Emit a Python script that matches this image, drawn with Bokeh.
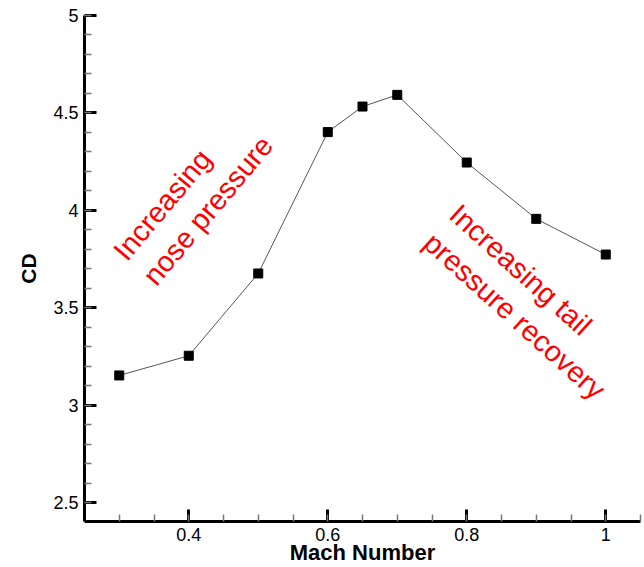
from bokeh.plotting import figure
from bokeh.models import SingleIntervalTicker, CustomJSTickFormatter, Range1d
from bokeh.core.properties import value
from bokeh.embed import file_html
from bokeh.resources import INLINE

mach = [0.3, 0.4, 0.5, 0.6, 0.65, 0.7, 0.8, 0.9, 1.0]
cd = [3.154, 3.255, 3.677, 4.402, 4.533, 4.593, 4.246, 3.957, 3.774]

note_x = [0.3214, 0.7634]
note_y = [3.703, 3.93]
note_text = ["Increasing\nnose pressure", "Increasing tail\npressure recovery"]
note_angle = [50, -42]

FONT = "Liberation Sans"

p = figure(width=644, height=567, output_backend="svg", toolbar_location=None,
           x_range=Range1d(0.25, 1.05), y_range=Range1d(2.405, 5.0),
           min_border_left=84, min_border_right=4, min_border_top=15, min_border_bottom=46)
p.outline_line_color = None
p.xgrid.visible = False
p.ygrid.visible = False

p.line(mach, cd, line_color="#555555", line_width=1)
p.scatter(mach, cd, marker="square", size=9, fill_color="black", line_color="black")

p.text(x=note_x, y=note_y, text=note_text, angle=note_angle, angle_units="deg",
       text_color="red", text_font=value(FONT), text_font_size="29px",
       text_align="left", text_baseline="middle", text_line_height=1.2)

fmt = CustomJSTickFormatter(code="return String(parseFloat(tick.toFixed(3)));")

for ax, tk in ((p.xaxis[0], SingleIntervalTicker(interval=0.2, num_minor_ticks=4)),
               (p.yaxis[0], SingleIntervalTicker(interval=0.5, num_minor_ticks=5))):
    ax.ticker = tk
    ax.formatter = fmt
    ax.axis_line_width = 3
    ax.axis_line_color = "black"
    ax.major_tick_in = 12
    ax.major_tick_out = 0
    ax.major_tick_line_width = 3
    ax.major_tick_line_color = "black"
    ax.minor_tick_in = 7
    ax.minor_tick_out = 0
    ax.minor_tick_line_width = 1.5
    ax.minor_tick_line_color = "#777777"
    ax.major_label_text_font = FONT
    ax.major_label_text_font_size = "18px"
    ax.major_label_text_color = "black"
    ax.major_label_standoff = 6
    ax.axis_label_text_font = FONT
    ax.axis_label_text_font_style = "bold"
    ax.axis_label_text_color = "black"

p.xaxis.axis_label = "Mach Number"
p.xaxis.axis_label_text_font_size = "22px"
p.xaxis.axis_label_standoff = -4
p.yaxis.axis_label = "CD"
p.yaxis.axis_label_text_font_size = "21px"
p.yaxis.axis_label_standoff = 10

open("out.html", "w").write(file_html(p, INLINE))
